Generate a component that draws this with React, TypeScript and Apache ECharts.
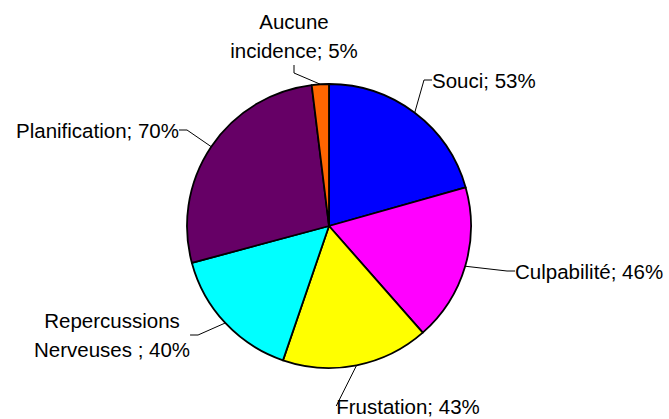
import React, { useEffect, useRef } from "react";
import * as echarts from "echarts";

const categories = ["Souci", "Culpabilité", "Frustation", "Repercussions\nNerveuses ", "Planification", "Aucune\nincidence"];
const values = [53, 46, 43, 40, 70, 5];
const colors = ["#0000FF", "#FF00FF", "#FFFF00", "#00FFFF", "#660066", "#FF6600"];

// label anchor placements (layout only)
const labelPlacement = [
  { x: 432, y: 80, align: "left" },
  { x: 515, y: 271, align: "left" },
  { x: 408, y: 406, align: "center" },
  { x: 112, y: 335, align: "center" },
  { x: 179, y: 130, align: "right" },
  { x: 294, y: 36, align: "center" },
];

export default function App() {
  const ref = useRef<HTMLDivElement>(null);
  useEffect(() => {
    if (!ref.current) return;
    const chart = echarts.init(ref.current, null, { renderer: "svg" });
    chart.setOption({
      animation: false,
      backgroundColor: "#ffffff",
      series: [
        {
          type: "pie",
          center: [329, 226],
          radius: 142,
          startAngle: 90,
          clockwise: true,
          avoidLabelOverlap: false,
          itemStyle: { borderColor: "#000", borderWidth: 1.8 },
          label: {
            show: true,
            formatter: (p: any) => `${p.name}; ${p.value}%`,
            fontFamily: "Liberation Sans, Arial, sans-serif",
            fontSize: 20.5,
            lineHeight: 29,
            color: "#000",
          },
          labelLine: {
            show: true,
            lineStyle: { color: "#000", width: 1 },
            length: 15,
            length2: 8,
          },
          labelLayout: (params: any) => {
            const p = labelPlacement[params.dataIndex];
            return { x: p.x, y: p.y, align: p.align, verticalAlign: "middle", moveOverlap: false };
          },
          data: categories.map((c, i) => ({
            name: c,
            value: values[i],
            itemStyle: { color: colors[i] },
          })),
        },
      ],
    });
    return () => chart.dispose();
  }, []);
  return (
    <div
      ref={ref}
      style={{ position: "fixed", left: 0, top: 0, width: 669, height: 419 }}
    />
  );
}
